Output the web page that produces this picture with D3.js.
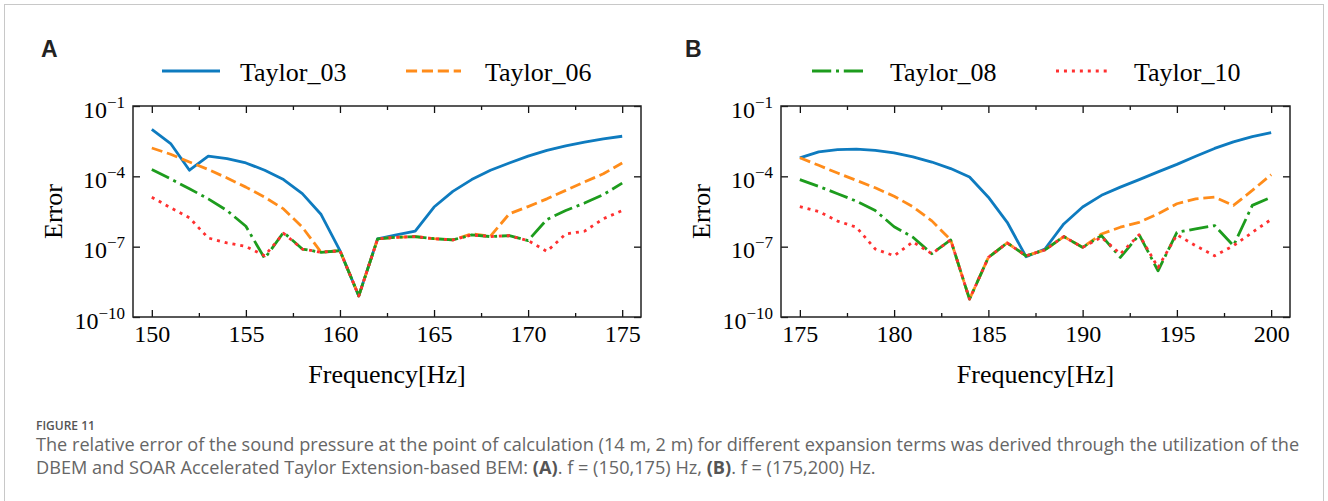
<!DOCTYPE html>
<html>
<head>
<meta charset="utf-8">
<script src="https://cdn.jsdelivr.net/npm/d3@7"></script>
<style>
  body { margin: 0; background: #fff; }
  svg { display: block; }
</style>
</head>
<body>
<div id="chart"></div>
<script>
// Frequenzen (Hz)
const freqA = [150,151,152,153,154,155,156,157,158,159,160,161,162,163,164,165,166,167,168,169,170,171,172,173,174,175];
const freqB = [175,176,177,178,179,180,181,182,183,184,185,186,187,188,189,190,191,192,193,194,195,196,197,198,199,200];

// Fehler als log10-Exponent
const t03A = [-2.0,-2.6,-3.74,-3.14,-3.24,-3.43,-3.74,-4.14,-4.74,-5.63,-7.17,-9.1,-6.67,-6.5,-6.34,-5.31,-4.64,-4.14,-3.74,-3.43,-3.14,-2.89,-2.70,-2.54,-2.40,-2.29];
const t06A = [-2.79,-3.06,-3.39,-3.71,-4.07,-4.46,-4.89,-5.39,-6.17,-7.24,-7.17,-9.1,-6.67,-6.6,-6.57,-6.66,-6.71,-6.45,-6.55,-5.6,-5.29,-4.96,-4.6,-4.24,-3.89,-3.43];
const t08A = [-3.71,-4.11,-4.53,-4.96,-5.46,-6.13,-7.5,-6.39,-7.1,-7.24,-7.17,-9.1,-6.67,-6.6,-6.57,-6.66,-6.71,-6.5,-6.57,-6.53,-6.74,-5.84,-5.46,-5.14,-4.78,-4.29];
const t10A = [-4.89,-5.34,-5.77,-6.63,-6.84,-6.99,-7.39,-6.43,-7.1,-7.24,-7.17,-9.1,-6.67,-6.6,-6.57,-6.66,-6.71,-6.5,-6.57,-6.53,-6.74,-7.2,-6.46,-6.34,-5.81,-5.46];

const t03B = [-3.21,-2.96,-2.86,-2.84,-2.89,-3.0,-3.17,-3.39,-3.67,-4.03,-4.89,-5.96,-7.43,-7.1,-6.03,-5.31,-4.81,-4.46,-4.14,-3.81,-3.49,-3.14,-2.81,-2.53,-2.31,-2.14];
const t06B = [-3.21,-3.53,-3.86,-4.17,-4.49,-4.85,-5.3,-5.9,-6.71,-9.24,-7.46,-6.84,-7.39,-7.14,-6.57,-7.03,-6.46,-6.17,-5.96,-5.6,-5.17,-4.96,-4.89,-5.24,-4.6,-3.93];
const t08B = [-4.14,-4.43,-4.74,-5.06,-5.46,-6.15,-6.6,-7.3,-6.71,-9.24,-7.46,-6.84,-7.39,-7.14,-6.57,-7.03,-6.53,-7.46,-6.49,-8.03,-6.39,-6.24,-6.1,-6.96,-5.24,-4.89];
const t10B = [-5.29,-5.5,-5.91,-6.17,-7.1,-7.39,-6.8,-7.3,-6.71,-9.24,-7.46,-6.84,-7.39,-7.14,-6.57,-7.03,-6.6,-7.31,-6.49,-7.89,-6.49,-6.96,-7.39,-6.96,-6.39,-5.84];

// Achsenbeschriftungen
const xTicksA = [150,155,160,165,170,175];
const xMinorA = [152.5,157.5,162.5,167.5,172.5];
const xTicksB = [175,180,185,190,195,200];
const xMinorB = [177.5,182.5,187.5,192.5,197.5];
const yTickExp = [-1,-4,-7,-10];

const seriesNames = ["Taylor_03","Taylor_06","Taylor_08","Taylor_10"];
const seriesColors = ["#0e7bbf","#ff8c1a","#1d9c1d","#ff3030"];
const seriesDash = [null,"11.1,4.8","19.2,4.8,3,4.8","3,4.95"];

const W = 1328, H = 501;
const serif = "'Liberation Serif','Times New Roman',serif";

const svg = d3.select("#chart").append("svg")
    .attr("width", W)
    .attr("height", H);

svg.append("rect").attr("width", W).attr("height", H).attr("fill", "#fff");
// Rahmen
svg.append("rect")
    .attr("x", 4.5).attr("y", 4.5)
    .attr("width", 1319).attr("height", H + 20)
    .attr("fill", "none")
    .attr("stroke", "#c8c8c8");

function drawPanel(opt) {
    const w = opt.width, h = opt.height;
    const g = svg.append("g").attr("transform", `translate(${opt.left},${opt.top})`);

    const x = d3.scaleLinear().domain([opt.freq[0] - 1, opt.freq[opt.freq.length - 1] + 1]).range([0, w]);
    const y = d3.scaleLog().domain([1e-10, 1e-1]).range([h, 0]);

    // Linien
    const line = d3.line()
        .x(d => x(d[0]))
        .y(d => y(Math.pow(10, d[1])));

    opt.series.forEach((s, i) => {
        g.append("path")
            .datum(opt.freq.map((f, j) => [f, s[j]]))
            .attr("d", line)
            .attr("fill", "none")
            .attr("stroke", seriesColors[i])
            .attr("stroke-width", 2.8)
            .attr("stroke-dasharray", seriesDash[i])
            .attr("stroke-linejoin", "round");
    });

    // Ticks (nach innen)
    const xb = g.append("g").attr("transform", `translate(0,${h})`)
        .call(d3.axisBottom(x).tickValues(opt.ticks).tickSize(-7).tickSizeOuter(0).tickPadding(8));
    g.append("g").attr("transform", `translate(0,${h})`)
        .call(d3.axisBottom(x).tickValues(opt.minor).tickSize(-4).tickSizeOuter(0).tickFormat(""));
    g.append("g")
        .call(d3.axisTop(x).tickValues(opt.ticks).tickSize(-7).tickSizeOuter(0).tickFormat(""));
    g.append("g")
        .call(d3.axisTop(x).tickValues(opt.minor).tickSize(-4).tickSizeOuter(0).tickFormat(""));
    g.append("g")
        .call(d3.axisLeft(y).tickValues(yTickExp.map(e => Math.pow(10, e))).tickSize(-7).tickSizeOuter(0).tickFormat(""));
    g.append("g").attr("transform", `translate(${w},0)`)
        .call(d3.axisRight(y).tickValues(yTickExp.map(e => Math.pow(10, e))).tickSize(-7).tickSizeOuter(0).tickFormat(""));

    g.selectAll(".domain").remove();
    g.selectAll(".tick line").attr("stroke", "#111").attr("stroke-width", 1.3);
    xb.selectAll("text")
        .style("font-family", serif)
        .style("font-size", "24px")
        .attr("fill", "#000");

    // y-Beschriftung mit Exponent
    yTickExp.forEach(e => {
        const t = g.append("text")
            .attr("x", -8)
            .attr("y", y(Math.pow(10, e)) + 11.5)
            .attr("text-anchor", "end")
            .style("font-family", serif)
            .attr("fill", "#000");
        t.append("tspan").style("font-size", "24px").text("10");
        t.append("tspan").attr("dy", -10).style("font-size", "17px").text("\u2212" + Math.abs(e));
    });

    // Rahmen des Plots
    g.append("rect")
        .attr("width", w).attr("height", h)
        .attr("fill", "none")
        .attr("stroke", "#222")
        .attr("stroke-width", 1.5);

    g.append("text")
        .attr("transform", `translate(-71,${h / 2}) rotate(-90)`)
        .attr("text-anchor", "middle")
        .style("font-family", serif)
        .style("font-size", "26px")
        .text("Error");

    g.append("text")
        .attr("x", w / 2)
        .attr("y", h + 66)
        .attr("text-anchor", "middle")
        .style("font-family", serif)
        .style("font-size", "26px")
        .text("Frequency[Hz]");
}

drawPanel({ left: 133, top: 106, width: 508, height: 211, freq: freqA, series: [t03A, t06A, t08A, t10A], ticks: xTicksA, minor: xMinorA });
drawPanel({ left: 781, top: 106, width: 509, height: 211, freq: freqB, series: [t03B, t06B, t08B, t10B], ticks: xTicksB, minor: xMinorB });

// Panel-Buchstaben
[["A", 41], ["B", 685]].forEach(d => {
    svg.append("text")
        .attr("x", d[1]).attr("y", 57)
        .style("font-family", "'Liberation Sans',Arial,sans-serif")
        .style("font-weight", "bold")
        .style("font-size", "23px")
        .attr("fill", "#222")
        .text(d[0]);
});

// Legenden
const legendPos = [
    { x1: 162, x2: 220, tx: 240 },
    { x1: 406, x2: 461, tx: 485 },
    { x1: 812, x2: 867, tx: 890 },
    { x1: 1056, x2: 1109, tx: 1134 }
];
legendPos.forEach((p, i) => {
    svg.append("line")
        .attr("x1", p.x1).attr("x2", p.x2)
        .attr("y1", 71).attr("y2", 71)
        .attr("stroke", seriesColors[i])
        .attr("stroke-width", 3)
        .attr("stroke-dasharray", seriesDash[i]);
    svg.append("text")
        .attr("x", p.tx).attr("y", 81)
        .style("font-family", serif)
        .style("font-size", "26px")
        .text(seriesNames[i]);
});

// Bildunterschrift
const capFont = "'Open Sans','Noto Sans',sans-serif";
svg.append("text")
    .attr("x", 36).attr("y", 430)
    .style("font-family", capFont)
    .style("font-size", "12px")
    .style("font-weight", "600")
    .attr("fill", "#555")
    .text("FIGURE 11");

const cap1 = svg.append("text")
    .attr("x", 36).attr("y", 451)
    .style("font-family", capFont)
    .style("font-size", "14px")
    .attr("fill", "#666")
    .text("The relative error of the sound pressure at the point of calculation (14 m, 2 m) for different expansion terms was derived through the utilization of the");

const cap2 = svg.append("text")
    .attr("x", 36).attr("y", 474)
    .style("font-family", capFont)
    .style("font-size", "14px")
    .attr("fill", "#666");
cap2.append("tspan").text("DBEM and SOAR Accelerated Taylor Extension-based BEM: ");
cap2.append("tspan").style("font-weight", "700").attr("fill", "#555").text("(A)");
cap2.append("tspan").text(". f = (150,175) Hz, ");
cap2.append("tspan").style("font-weight", "700").attr("fill", "#555").text("(B)");
cap2.append("tspan").text(". f = (175,200) Hz.");

// Breite der ersten Zeile an das Original anpassen
const len1 = cap1.node().getComputedTextLength();
const scaleCap = 1264 / len1;
cap1.style("font-size", (14 * scaleCap).toFixed(2) + "px");
cap2.style("font-size", (14 * scaleCap).toFixed(2) + "px");
</script>
</body>
</html>
